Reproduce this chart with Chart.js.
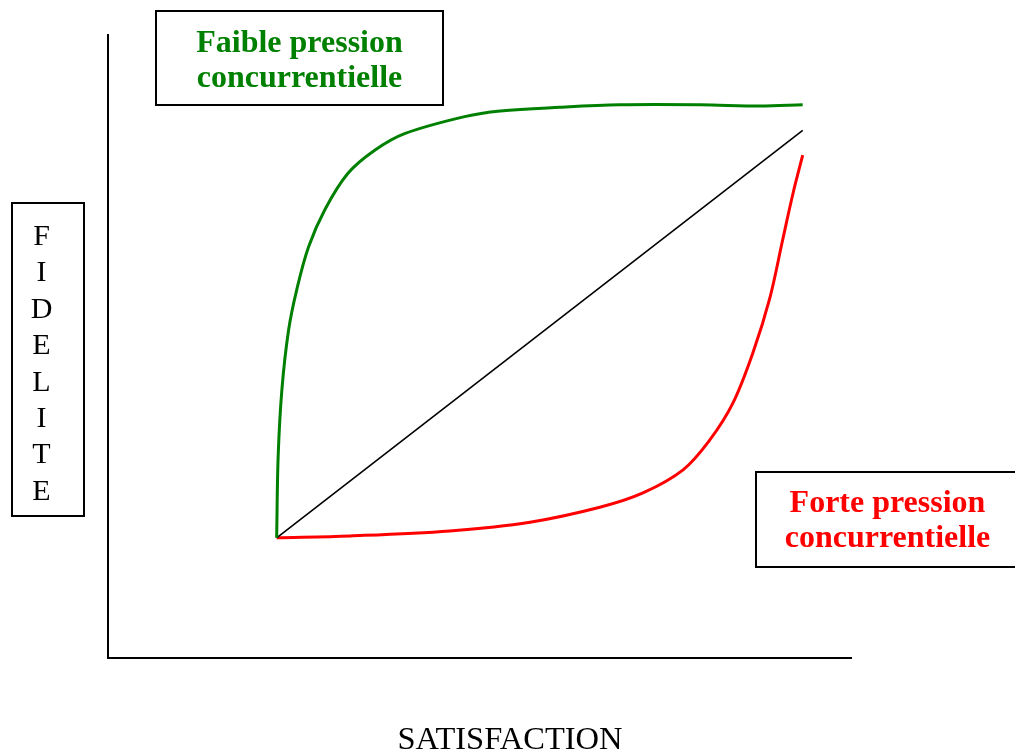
<!DOCTYPE html>
<html>
<head>
<meta charset="utf-8">
<script src="https://cdn.jsdelivr.net/npm/chart.js@4"></script>
<style>
  body { margin: 0; background: #fff; }
  #wrap { width: 1015px; height: 754px; }
</style>
</head>
<body>
<div id="wrap"><canvas id="fideliteChart" width="1015" height="754"></canvas></div>
<script>
// satisfaction (x) / fidelite (y), échelle 0-100
const faibleX = [22.7, 22.9, 23.4, 24.3, 25.4, 27.0, 29.2, 32.3, 35.9, 40.0, 48.0, 52.8, 60.8, 68.9, 79.7, 87.8, 93.5];
const faibleY = [19.3, 32.3, 43.0, 52.6, 59.1, 66.0, 72.0, 77.8, 81.5, 84.2, 86.9, 87.8, 88.4, 88.8, 88.8, 88.6, 88.8];

const forteX = [22.7, 32.6, 46.0, 56.8, 66.2, 72.0, 77.4, 81.0, 84.1, 86.8, 89.1, 90.8, 92.2, 93.5];
const forteY = [19.3, 19.6, 20.4, 21.8, 24.2, 26.5, 30.2, 35.0, 40.9, 49.0, 57.9, 67.1, 74.6, 80.7];

const neutreX = [22.7, 93.5];
const neutreY = [19.3, 84.7];

const labelFaible = ["Faible pression", "concurrentielle"];
const labelForte = ["Forte pression", "concurrentielle"];
const labelY = "FIDELITE";
const labelX = "SATISFACTION";

const pts = (xs, ys) => xs.map((x, i) => ({ x: x, y: ys[i] }));

const serif = '"Liberation Serif", "Times New Roman", serif';

const annotations = {
    id: "annotations",
    afterDraw(chart) {
        const c = chart.ctx;
        c.save();
        c.strokeStyle = "#000";
        c.lineWidth = 2;

        // boite verte
        c.strokeRect(156, 11, 287, 94);
        c.font = "bold 32px " + serif;
        c.fillStyle = "#008000";
        c.textAlign = "center";
        c.textBaseline = "alphabetic";
        c.fillText(labelFaible[0], 299.5, 52);
        c.fillText(labelFaible[1], 299.5, 87);

        // boite rouge
        c.strokeRect(756, 472, 270, 95);
        c.fillStyle = "#ff0000";
        c.fillText(labelForte[0], 887.5, 512);
        c.fillText(labelForte[1], 887.5, 547);

        // FIDELITE vertical
        c.strokeRect(12, 203, 72, 313);
        c.font = "30px " + serif;
        c.fillStyle = "#000";
        labelY.split("").forEach((ch, i) => {
            c.fillText(ch, 41.5, 245 + i * 36.4);
        });

        c.font = "32.5px " + serif;
        c.fillText(labelX, 510, 749);
        c.restore();
    }
};

const zeroSize = (scale) => {
    if (scale.isHorizontal()) scale.height = 0;
    else scale.width = 0;
};

new Chart(document.getElementById("fideliteChart"), {
    type: "line",
    data: {
        datasets: [
            {
                data: pts(faibleX, faibleY),
                borderColor: "#008000",
                borderWidth: 3,
                tension: 0.35,
                pointRadius: 0
            },
            {
                data: pts(neutreX, neutreY),
                borderColor: "#000",
                borderWidth: 1.6,
                tension: 0,
                pointRadius: 0
            },
            {
                data: pts(forteX, forteY),
                borderColor: "#ff0000",
                borderWidth: 3,
                tension: 0.35,
                pointRadius: 0
            }
        ]
    },
    options: {
        responsive: false,
        animation: false,
        layout: { padding: { left: 108, top: 35, right: 164, bottom: 96 } },
        plugins: {
            legend: { display: false },
            tooltip: { enabled: false }
        },
        scales: {
            x: {
                type: "linear",
                min: 0,
                max: 100,
                ticks: { display: false },
                grid: { display: false },
                border: { display: true, color: "#000", width: 2 },
                afterFit: zeroSize
            },
            y: {
                type: "linear",
                min: 0,
                max: 100,
                ticks: { display: false },
                grid: { display: false },
                border: { display: true, color: "#000", width: 2 },
                afterFit: zeroSize
            }
        }
    },
    plugins: [annotations]
});
</script>
</body>
</html>
